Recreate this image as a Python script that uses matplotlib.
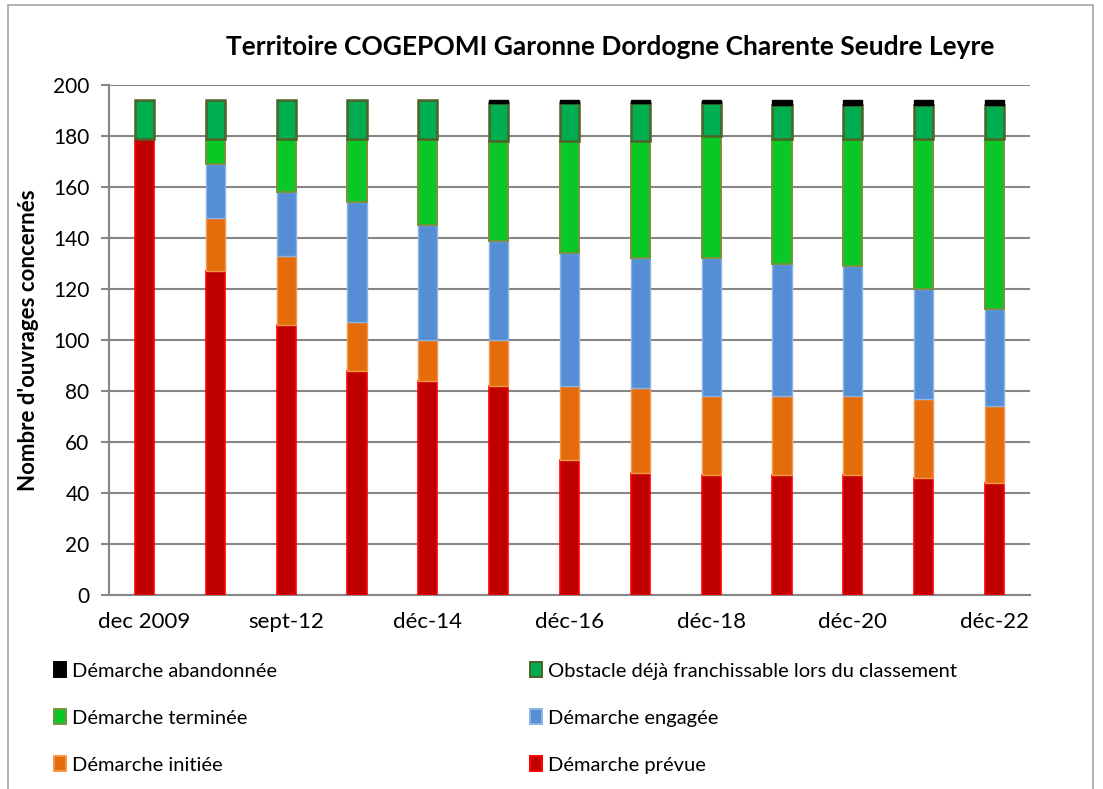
import matplotlib
matplotlib.use("Agg")
import matplotlib.pyplot as plt
from matplotlib.patches import Patch, Rectangle
import numpy as np

plt.rcParams['font.family'] = ['Lato', 'DejaVu Sans']

categories = ["dec 2009", "déc-11", "sept-12", "déc-13", "déc-14", "déc-15", "déc-16",
              "déc-17", "déc-18", "déc-19", "déc-20", "déc-21", "déc-22"]
shown_labels = ["dec 2009", "", "sept-12", "", "déc-14", "", "déc-16",
                "", "déc-18", "", "déc-20", "", "déc-22"]

prevue     = [179, 127, 106, 88, 84, 82, 53, 48, 47, 47, 47, 46, 44]
initiee    = [0,   21,  27,  19, 16, 18, 29, 33, 31, 31, 31, 31, 30]
engagee    = [0,   21,  25,  47, 45, 39, 52, 51, 54, 52, 51, 43, 38]
terminee   = [0,   10,  21,  25, 34, 39, 44, 46, 48, 49, 50, 59, 67]
obstacle   = [15,  15,  15,  15, 15, 15, 15, 15, 13, 13, 13, 13, 13]
abandonnee = [0,   0,   0,   0,  0,  1,  1,  1,  1,  2,  2,  2,  2]

series = [
    ("Démarche prévue", prevue, "#c00000", "#ff0000", 1.2),
    ("Démarche initiée", initiee, "#e46c0a", "#f79646", 1.0),
    ("Démarche engagée", engagee, "#558ed5", "#8db3e2", 1.0),
    ("Démarche terminée", terminee, "#08c826", "#77933c", 1.4),
    ("Obstacle déjà franchissable lors du classement", obstacle, "#00ad50", "#4f6228", 1.8),
    ("Démarche abandonnée", abandonnee, "#000000", "#000000", 1.0),
]

fig = plt.figure(figsize=(11.03, 7.89), dpi=100)
ax = fig.add_axes([109/1103, 1-595/789, (1030-109)/1103, (595-85)/789])

x = np.arange(len(categories))
bottom = np.zeros(len(categories))
for name, vals, fc, ec, lw in series:
    v = np.array(vals, dtype=float)
    lws = [lw if val > 0 else 0 for val in v]
    ax.bar(x, v, bottom=bottom, width=0.27, color=fc, edgecolor=ec, linewidth=lws,
           label=name, zorder=3)
    bottom += v

ax.set_xlim(-0.5, len(categories) - 0.5)
ax.set_ylim(0, 200)
ax.set_yticks(np.arange(0, 201, 20))
ax.set_xticks(x)
ax.set_xticklabels(shown_labels, fontsize=16)
ax.tick_params(axis='y', labelsize=15, length=6, width=1.5, color="#868686", pad=8)
ax.tick_params(axis='x', length=0, pad=12)
ax.grid(axis='y', color="#868686", linewidth=1.5, zorder=0)
for s in ["top", "right"]:
    ax.spines[s].set_visible(False)
for s in ["left", "bottom"]:
    ax.spines[s].set_color("#868686")
    ax.spines[s].set_linewidth(1.5)

ax.set_ylabel("Nombre d'ouvrages concernés", fontsize=16, fontweight='bold', labelpad=10)

fig.text(610/1103, 1-47/789, "Territoire COGEPOMI Garonne Dordogne Charente Seudre Leyre",
         ha='center', va='center', fontsize=19, fontweight='bold')

# chart border
fig.patches.append(Rectangle((8/1103, -0.01), (1093-8)/1103, (789-5)/789 + 0.01,
                             transform=fig.transFigure, fill=False,
                             edgecolor="#a6a6a6", linewidth=1.2))

handles = {name: Patch(facecolor=fc, edgecolor=ec, linewidth=1.4)
           for name, _, fc, ec, _lw in series}
col1 = ["Démarche abandonnée", "Démarche terminée", "Démarche initiée"]
col2 = ["Obstacle déjà franchissable lors du classement", "Démarche engagée", "Démarche prévue"]
for names, xpos in [(col1, 54/1103), (col2, 530/1103)]:
    fig.legend([handles[n] for n in names], names, loc='upper left',
               bbox_to_anchor=(xpos, 1-662/789), frameon=False, fontsize=14.5,
               handlelength=0.6, handleheight=0.8, handletextpad=0.3,
               labelspacing=1.45, borderaxespad=0, borderpad=0)

fig.savefig("out.png", dpi=100)
